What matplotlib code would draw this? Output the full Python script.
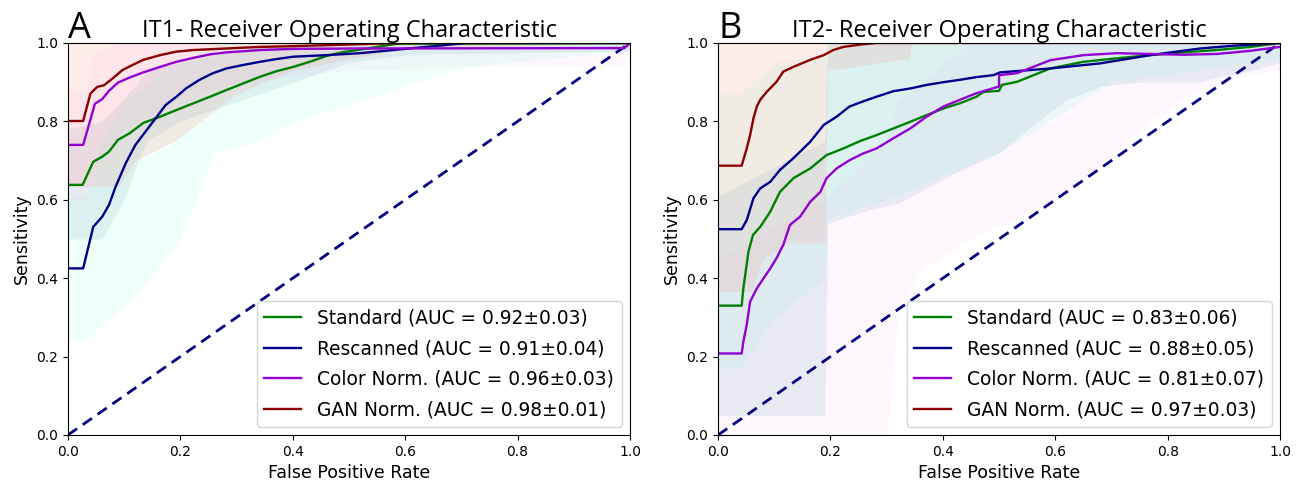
import matplotlib
matplotlib.use("Agg")
import matplotlib.pyplot as plt

# ---------------- IT1 (panel A) ----------------
it1_std_fpr = [0, .026, .045, .061, .073, .089, .11, .134, .164, .193, .223, .253, .282, .312, .342, .371, .401, .43, .46, .49, .52, .55, .585, 1.0]
it1_std_tpr = [.638, .638, .697, .71, .723, .753, .77, .796, .812, .829, .846, .863, .88, .897, .914, .928, .939, .952, .967, .977, .983, .99, .998, 1.0]

it1_res_fpr = [0, .027, .045, .061, .073, .085, .103, .12, .138, .156, .174, .193, .21, .234, .258, .282, .312, .342, .371, .401, .46, .52, .6, .71, 1.0]
it1_res_tpr = [.425, .425, .531, .557, .587, .634, .694, .74, .774, .808, .842, .863, .884, .906, .923, .935, .944, .952, .959, .965, .969, .974, .985, 1.0, 1.0]

it1_col_fpr = [0, .027, .048, .061, .073, .089, .11, .134, .164, .193, .223, .253, .282, .342, .401, .52, .99, 1.0]
it1_col_tpr = [.74, .74, .845, .857, .878, .899, .912, .925, .939, .952, .962, .971, .976, .982, .985, .986, .987, 1.0]

it1_gan_fpr = [0, .027, .04, .052, .064, .079, .097, .115, .134, .164, .193, .223, .282, .342, .401, .52, .6, 1.0]
it1_gan_tpr = [.801, .801, .871, .888, .892, .909, .931, .944, .957, .969, .978, .982, .986, .99, .992, .997, 1.0, 1.0]

# std bands (lower / upper bounds)
it1_std_band_fpr = [0, .06, .1, .125, .14, .2, .3, .4, .5, .6, 1.0]
it1_std_band_lo = [.50, .50, .60, .70, .75, .80, .85, .90, .95, .97, .98]
it1_std_band_hi = [.78, .80, .86, .90, .93, .95, .98, 1.0, 1.0, 1.0, 1.0]

it1_res_band_fpr = [0, .035, .06, .1, .148, .196, .228, .26, .326, .386, .47, .56, .65, .71, .85, 1.0]
it1_res_band_lo = [.243, .243, .28, .33, .405, .49, .60, .72, .745, .79, .83, .87, .915, .94, .96, .98]
it1_res_band_hi = [.60, .62, .75, .85, .90, .95, .97, 1.0, 1.0, 1.0, 1.0, 1.0, 1.0, 1.0, 1.0, 1.0]

it1_col_band_fpr = [0, .03, .05, .1, .2, .3, .5, .7, .99, 1.0]
it1_col_band_lo = [.60, .60, .70, .78, .86, .90, .93, .94, .94, 1.0]
it1_col_band_hi = [.88, .88, .98, 1.0, 1.0, 1.0, 1.0, 1.0, 1.0, 1.0]

it1_gan_band_fpr = [0, .09, .12, .19, .3, .4, .5, .6, 1.0]
it1_gan_band_lo = [.634, .634, .70, .75, .87, .93, .96, .985, 1.0]
it1_gan_band_hi = [1.0, 1.0, 1.0, 1.0, 1.0, 1.0, 1.0, 1.0, 1.0]

# ---------------- IT2 (panel B) ----------------
it2_std_fpr = [0, .042, .045, .054, .062, .075, .093, .11, .134, .164, .193, .223, .253, .282, .312, .342, .371, .401, .43, .46, .472, .5, .505, .532, .591, .65, .71, .769, .828, .887, .947, 1.0]
it2_std_tpr = [.33, .33, .374, .467, .51, .531, .57, .62, .655, .68, .714, .731, .75, .765, .782, .799, .816, .833, .846, .863, .875, .878, .893, .901, .935, .952, .961, .969, .976, .982, .99, 1.0]

it2_res_fpr = [0, .042, .051, .063, .075, .093, .11, .134, .164, .188, .211, .234, .258, .282, .312, .342, .371, .401, .43, .46, .49, .502, .591, .68, .769, .858, .917, 1.0]
it2_res_tpr = [.525, .525, .548, .604, .629, .646, .676, .706, .748, .791, .812, .838, .851, .863, .877, .884, .893, .90, .906, .913, .918, .925, .935, .948, .969, .986, .993, 1.0]

it2_col_fpr = [0, .042, .045, .051, .057, .069, .081, .093, .104, .116, .128, .146, .164, .182, .193, .211, .234, .258, .282, .312, .342, .371, .401, .43, .46, .5, .5, .532, .591, .65, .71, .769, .828, .887, .947, 1.0]
it2_col_tpr = [.208, .208, .238, .281, .34, .374, .40, .425, .451, .485, .536, .557, .595, .62, .655, .68, .701, .718, .731, .757, .782, .812, .838, .855, .872, .889, .918, .923, .956, .969, .974, .972, .97, .972, .98, .99]

it2_gan_fpr = [0, .042, .051, .057, .063, .069, .075, .087, .104, .116, .134, .164, .188, .205, .223, .253, .282, 1.0]
it2_gan_tpr = [.687, .687, .731, .765, .808, .838, .855, .876, .901, .927, .939, .957, .969, .982, .99, .996, 1.0, 1.0]

it2_std_band_fpr = [0, .19, .195, .27, .32, .41, .5, .56, .62, .68, .75, .85, .95, 1.0]
it2_std_band_lo = [.05, .05, .54, .575, .59, .66, .72, .79, .855, .89, .90, .90, .93, .95]
it2_std_band_hi = [.61, .75, 1.0, 1.0, 1.0, 1.0, 1.0, 1.0, 1.0, 1.0, 1.0, 1.0, 1.0, 1.0]

it2_res_band_fpr = [0, .04, .1, .19, .195, .3, .5, .7, .85, 1.0]
it2_res_band_lo = [.17, .17, .30, .40, .55, .60, .72, .90, .93, .96]
it2_res_band_hi = [.87, .87, .95, .97, 1.0, 1.0, 1.0, 1.0, 1.0, 1.0]

it2_col_band_fpr = [0, .19, .3, .32, .36, .45, .55, .65, .75, .85, .95, 1.0]
it2_col_band_lo = [0.0, 0.0, 0.0, .30, .42, .50, .56, .65, .78, .88, .92, .93]
it2_col_band_hi = [.45, .60, .75, .85, .90, 1.0, 1.0, 1.0, 1.0, 1.0, 1.0, 1.0]

it2_gan_band_fpr = [0, .06, .08, .125, .19, .195, .34, .345, 1.0]
it2_gan_band_lo = [.366, .366, .45, .49, .49, .93, .96, 1.0, 1.0]
it2_gan_band_hi = [1.0, 1.0, 1.0, 1.0, 1.0, 1.0, 1.0, 1.0, 1.0]

labels = ["Standard", "Rescanned", "Color Norm.", "GAN Norm."]
it1_auc = ["0.92\u00b10.03", "0.91\u00b10.04", "0.96\u00b10.03", "0.98\u00b10.01"]
it2_auc = ["0.83\u00b10.06", "0.88\u00b10.05", "0.81\u00b10.07", "0.97\u00b10.03"]

ticks = [0.0, 0.2, 0.4, 0.6, 0.8, 1.0]
tick_labels = ["0.0", "0.2", "0.4", "0.6", "0.8", "1.0"]

line_colors = ["green", "darkblue", "darkviolet", "darkred"]
band_colors = ["steelblue", "aquamarine", "violet", "salmon"]
band_alphas = [0.11, 0.12, 0.06, 0.15]

fig = plt.figure(figsize=(13.07, 4.83), dpi=100)
axA = fig.add_axes([0.052, 0.0994, 0.430, 0.8116])
axB = fig.add_axes([0.5494, 0.0994, 0.430, 0.8116])

panels = [
    (axA, "A", "IT1- Receiver Operating Characteristic", it1_auc,
     [(it1_std_fpr, it1_std_tpr), (it1_res_fpr, it1_res_tpr), (it1_col_fpr, it1_col_tpr), (it1_gan_fpr, it1_gan_tpr)],
     [(it1_std_band_fpr, it1_std_band_lo, it1_std_band_hi),
      (it1_res_band_fpr, it1_res_band_lo, it1_res_band_hi),
      (it1_col_band_fpr, it1_col_band_lo, it1_col_band_hi),
      (it1_gan_band_fpr, it1_gan_band_lo, it1_gan_band_hi)]),
    (axB, "B", "IT2- Receiver Operating Characteristic", it2_auc,
     [(it2_std_fpr, it2_std_tpr), (it2_res_fpr, it2_res_tpr), (it2_col_fpr, it2_col_tpr), (it2_gan_fpr, it2_gan_tpr)],
     [(it2_std_band_fpr, it2_std_band_lo, it2_std_band_hi),
      (it2_res_band_fpr, it2_res_band_lo, it2_res_band_hi),
      (it2_col_band_fpr, it2_col_band_lo, it2_col_band_hi),
      (it2_gan_band_fpr, it2_gan_band_lo, it2_gan_band_hi)]),
]

for ax, letter, title, aucs, curves, bands in panels:
    for (bf, lo, hi), bc, ba in zip(bands, band_colors, band_alphas):
        ax.fill_between(bf, lo, hi, color=bc, alpha=ba, lw=0)
    ax.plot([0, 1], [0, 1], linestyle="--", color="navy", lw=2, dashes=(4, 2.5))
    for (fx, ty), c, lab, auc in zip(curves, line_colors, labels, aucs):
        ax.plot(fx, ty, color=c, lw=1.7, label=f"{lab} (AUC = {auc})")
    ax.set_xlim(0, 1)
    ax.set_ylim(0, 1)
    ax.set_xticks(ticks)
    ax.set_xticklabels(tick_labels)
    ax.set_yticks(ticks)
    ax.set_yticklabels(tick_labels)
    ax.tick_params(labelsize=10)
    ax.set_xlabel("False Positive Rate", fontsize=12.5)
    ax.set_ylabel("Sensitivity", fontsize=12.5)
    ax.set_title(title, fontsize=17, family="Open Sans", pad=4)
    ax.text(0.0, 1.0128, letter, transform=ax.transAxes, fontsize=26,
            family="Open Sans", ha="left", va="baseline")
    handles, labs = ax.get_legend_handles_labels()
    ax.legend(handles, labs, loc="lower right", fontsize=13.4, handlelength=2.0,
              handletextpad=0.85, labelspacing=0.62, borderaxespad=0.45)

fig.savefig("out.png", dpi=100)
